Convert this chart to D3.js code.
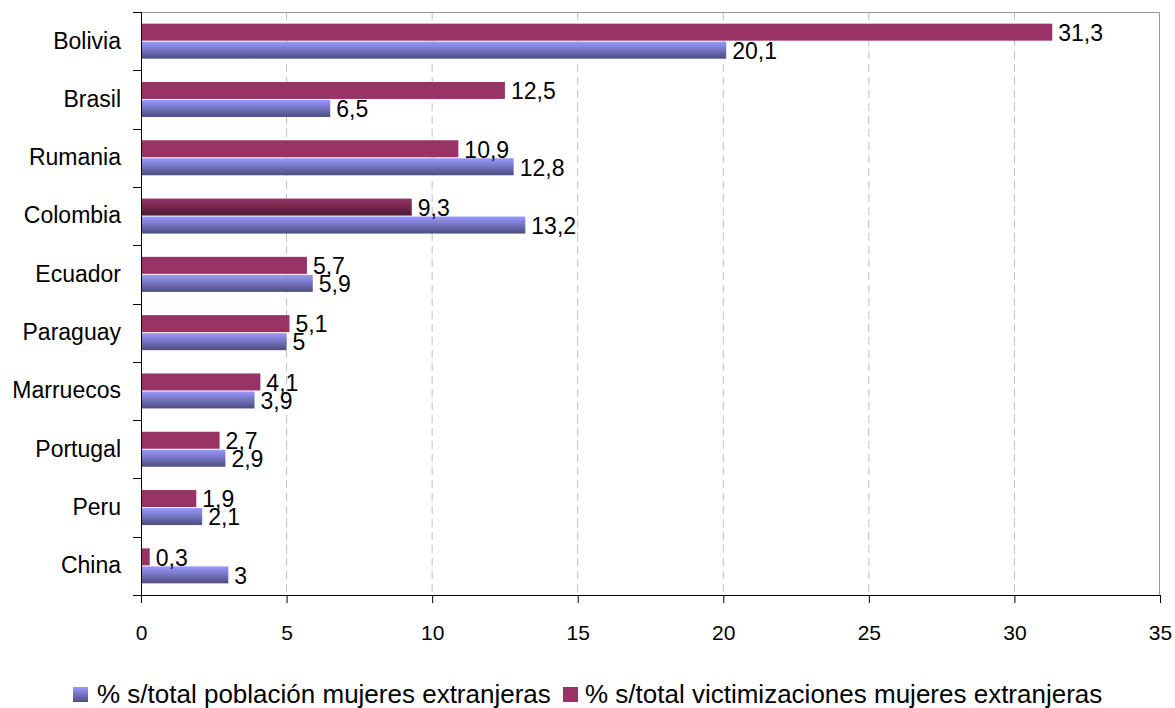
<!DOCTYPE html>
<html>
<head>
<meta charset="utf-8">
<script src="https://cdn.jsdelivr.net/npm/d3@7"></script>
<style>
  body { margin: 0; background: #fff; }
  text { font-family: "Liberation Sans", Arial, sans-serif; fill: #000; }
</style>
</head>
<body>
<svg width="1175" height="708"></svg>
<script>
const categories = ['Bolivia', 'Brasil', 'Rumania', 'Colombia', 'Ecuador', 'Paraguay', 'Marruecos', 'Portugal', 'Peru', 'China'];
const poblacion = [20.1, 6.5, 12.8, 13.2, 5.9, 5, 3.9, 2.9, 2.1, 3];
const victimizaciones = [31.3, 12.5, 10.9, 9.3, 5.7, 5.1, 4.1, 2.7, 1.9, 0.3];
const xTicks = [0, 5, 10, 15, 20, 25, 30, 35];
const seriesNames = ['% s/total población mujeres extranjeras', '% s/total victimizaciones mujeres extranjeras'];

const svg = d3.select('svg');
const margin = { top: 12, right: 15, bottom: 113, left: 141 };
const width = +svg.attr('width');
const height = +svg.attr('height');
const chartWidth = width - margin.left - margin.right;
const chartHeight = height - margin.top - margin.bottom;

const defs = svg.append('defs');
const blueGrad = defs.append('linearGradient').attr('id', 'blueGrad').attr('x1', 0).attr('y1', 0).attr('x2', 0).attr('y2', 1);
blueGrad.append('stop').attr('offset', '0%').attr('stop-color', '#9999ff');
blueGrad.append('stop').attr('offset', '100%').attr('stop-color', '#4d4d80');
const redGrad = defs.append('linearGradient').attr('id', 'redGrad').attr('x1', 0).attr('y1', 0).attr('x2', 0).attr('y2', 1);
redGrad.append('stop').attr('offset', '0%').attr('stop-color', '#993366');
redGrad.append('stop').attr('offset', '100%').attr('stop-color', '#4d1a33');

const g = svg.append('g').attr('transform', `translate(${margin.left},${margin.top})`);

const x = d3.scaleLinear().domain([0, 35]).range([0, chartWidth]);
const y = d3.scaleBand().domain(categories).range([0, chartHeight]);
const barH = 17;
const gap = 1;

// grid
g.selectAll('.grid')
  .data(xTicks.filter((d) => d > 0 && d < 35))
  .enter()
  .append('line')
  .attr('x1', (d) => x(d))
  .attr('x2', (d) => x(d))
  .attr('y1', 0)
  .attr('y2', chartHeight)
  .attr('stroke', '#c0c0c0')
  .attr('stroke-dasharray', '8,5');

// plot frame (top and right)
g.append('path')
  .attr('d', `M0,0.5H${chartWidth - 0.5}V${chartHeight}`)
  .attr('fill', 'none')
  .attr('stroke', '#999');

const rows = categories.map((c, i) => ({ c, pob: poblacion[i], vic: victimizaciones[i] }));

const row = g.selectAll('.row').data(rows).enter().append('g')
  .attr('transform', (d) => `translate(0,${y(d.c) + y.bandwidth() / 2})`);

// victimizaciones (top), poblacion (bottom)
row.append('rect')
  .attr('x', 0)
  .attr('y', -barH - gap / 2)
  .attr('width', (d) => x(d.vic))
  .attr('height', barH)
  .attr('fill', (d) => (d.c === 'Colombia' ? 'url(#redGrad)' : '#993366'));
row.append('rect')
  .attr('x', 0)
  .attr('y', gap / 2)
  .attr('width', (d) => x(d.pob))
  .attr('height', barH)
  .attr('fill', 'url(#blueGrad)');

const fmt = (v) => String(v).replace('.', ',');
row.append('text')
  .attr('x', (d) => x(d.vic) + 6)
  .attr('y', -barH / 2 - gap / 2)
  .attr('dy', '0.38em')
  .attr('font-size', '23px')
  .text((d) => fmt(d.vic));
row.append('text')
  .attr('x', (d) => x(d.pob) + 6)
  .attr('y', barH / 2 + gap / 2)
  .attr('dy', '0.38em')
  .attr('font-size', '23px')
  .text((d) => fmt(d.pob));

// axes
const yAxis = g.append('g')
  .call(d3.axisLeft(y).tickSize(0).tickPadding(20));
yAxis.select('.domain').remove();
yAxis.selectAll('text').attr('font-size', '23px').attr('font-family', null);

g.selectAll('.ytick')
  .data(d3.range(categories.length + 1))
  .enter()
  .append('line')
  .attr('x1', -8)
  .attr('x2', 0)
  .attr('y1', (i) => Math.round(i * y.step()) + 0.5)
  .attr('y2', (i) => Math.round(i * y.step()) + 0.5)
  .attr('stroke', '#000');

const xAxis = g.append('g')
  .attr('transform', `translate(0,${chartHeight})`)
  .call(d3.axisBottom(x).tickValues(xTicks).tickSize(8).tickPadding(22).tickFormat(d3.format('d')));
xAxis.select('.domain').attr('d', `M-8,0.5H${chartWidth}`).attr('stroke', '#000');
xAxis.selectAll('text').attr('font-size', '21px').attr('font-family', null);

g.append('line')
  .attr('x1', 0.5).attr('x2', 0.5)
  .attr('y1', 0).attr('y2', chartHeight + 8)
  .attr('stroke', '#000');

// legend
const legend = svg.append('g').attr('transform', 'translate(73,687)');
const leg1 = legend.append('g');
leg1.append('rect').attr('width', 15).attr('height', 15).attr('fill', 'url(#blueGrad)');
leg1.append('text').attr('x', 24).attr('y', 16).attr('font-size', '26px').text(seriesNames[0]);
const leg2 = legend.append('g').attr('transform', 'translate(490,0)');
leg2.append('rect').attr('width', 15).attr('height', 15).attr('fill', '#993366');
leg2.append('text').attr('x', 22).attr('y', 16).attr('font-size', '26px').text(seriesNames[1]);
</script>
</body>
</html>
